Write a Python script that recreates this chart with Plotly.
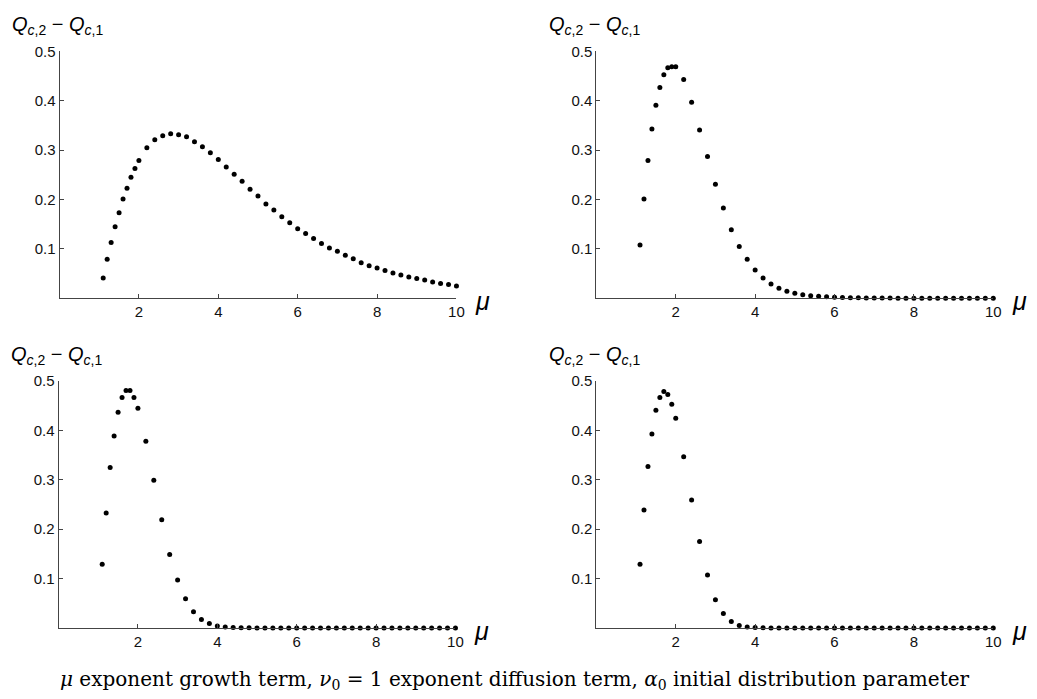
import plotly.graph_objects as go

W, H = 1037, 699

mu = [1.1, 1.2, 1.3, 1.4, 1.5, 1.6, 1.7, 1.8, 1.9, 2.0,
      2.2, 2.4, 2.6, 2.8, 3.0, 3.2, 3.4, 3.6, 3.8, 4.0,
      4.2, 4.4, 4.6, 4.8, 5.0, 5.2, 5.4, 5.6, 5.8, 6.0,
      6.2, 6.4, 6.6, 6.8, 7.0, 7.2, 7.4, 7.6, 7.8, 8.0,
      8.2, 8.4, 8.6, 8.8, 9.0, 9.2, 9.4, 9.6, 9.8, 10.0]

q_top_left = [0.041, 0.079, 0.113, 0.145, 0.173, 0.201, 0.223, 0.245, 0.263, 0.279,
              0.305, 0.321, 0.329, 0.333, 0.331, 0.327, 0.317, 0.307, 0.295, 0.281,
              0.266, 0.251, 0.237, 0.221, 0.207, 0.191, 0.179, 0.165, 0.153, 0.141,
              0.131, 0.121, 0.111, 0.102, 0.095, 0.087, 0.080, 0.072, 0.066, 0.061,
              0.056, 0.051, 0.047, 0.043, 0.040, 0.037, 0.033, 0.030, 0.028, 0.025]

q_top_right = [0.108, 0.201, 0.279, 0.343, 0.391, 0.427, 0.453, 0.467, 0.469, 0.469,
               0.443, 0.397, 0.341, 0.287, 0.231, 0.183, 0.139, 0.105, 0.079, 0.057,
               0.041, 0.029, 0.020, 0.014, 0.010, 0.007, 0.005, 0.004, 0.003, 0.002,
               0.0015, 0.001, 0.001, 0.0007, 0.0005, 0.0004, 0.0003, 0.0002, 0.0002, 0.0001,
               0.0001, 0.0001, 0.0001, 0.0001, 0.0001, 0.0, 0.0, 0.0, 0.0, 0.0]

q_bottom_left = [0.129, 0.233, 0.325, 0.389, 0.437, 0.467, 0.481, 0.481, 0.467, 0.445,
                 0.378, 0.299, 0.219, 0.149, 0.097, 0.059, 0.033, 0.017, 0.009, 0.004,
                 0.002, 0.001, 0.0005, 0.0003, 0.0001, 0.0, 0.0, 0.0, 0.0, 0.0,
                 0.0, 0.0, 0.0, 0.0, 0.0, 0.0, 0.0, 0.0, 0.0, 0.0,
                 0.0, 0.0, 0.0, 0.0, 0.0, 0.0, 0.0, 0.0, 0.0, 0.0]

q_bottom_right = [0.129, 0.239, 0.327, 0.393, 0.441, 0.467, 0.479, 0.473, 0.453, 0.425,
                  0.347, 0.259, 0.175, 0.107, 0.057, 0.029, 0.013, 0.005, 0.002, 0.001,
                  0.0004, 0.0001, 0.0, 0.0, 0.0, 0.0, 0.0, 0.0, 0.0, 0.0,
                  0.0, 0.0, 0.0, 0.0, 0.0, 0.0, 0.0, 0.0, 0.0, 0.0,
                  0.0, 0.0, 0.0, 0.0, 0.0, 0.0, 0.0, 0.0, 0.0, 0.0]

x_ticks = [2, 4, 6, 8, 10]
x_tick_text = ["2", "4", "6", "8", "10"]
y_ticks = [0.1, 0.2, 0.3, 0.4, 0.5]
y_tick_text = ["0.1", "0.2", "0.3", "0.4", "0.5"]

y_label = "<i>Q</i><sub><i>c</i>,2</sub> − <i>Q</i><sub><i>c</i>,1</sub>"
caption = ("<i>μ</i> exponent growth term, <i>ν</i><sub>0</sub> = 1 exponent diffusion term, "
           "<i>α</i><sub>0</sub> initial distribution parameter")

# panel pixel boxes: (left, right, top, bottom)
panels = [
    (60, 460, 43, 293, q_top_left),
    (601, 1001, 43, 293, q_top_right),
    (59, 459, 377, 627, q_bottom_left),
    (601, 1001, 377, 627, q_bottom_right),
]

def px(x):
    return x / W

def py(y):
    return 1 - y / H

fig = go.Figure()
sans = "Liberation Sans, Arial, sans-serif"
axis_color = "#444444"
annotations = []

for i, (l, r, t, b, vals) in enumerate(panels, start=1):
    xa = "x" if i == 1 else f"x{i}"
    ya = "y" if i == 1 else f"y{i}"
    fig.add_trace(go.Scatter(
        x=mu, y=vals, mode="markers", xaxis=xa, yaxis=ya,
        marker=dict(color="black", size=5), cliponaxis=False, showlegend=False,
    ))
    xkey = "xaxis" if i == 1 else f"xaxis{i}"
    ykey = "yaxis" if i == 1 else f"yaxis{i}"
    fig.update_layout(**{
        xkey: dict(domain=[px(l), px(r)], range=[0, 10], anchor=ya,
                   showline=True, linecolor=axis_color, linewidth=1,
                   showgrid=False, zeroline=False,
                   tickmode="array", tickvals=x_ticks, ticktext=x_tick_text,
                   ticks="inside", ticklen=4, tickcolor=axis_color,
                   tickfont=dict(family=sans, size=15, color="#111")),
        ykey: dict(domain=[py(b), py(t)], range=[0, 0.5], anchor=xa,
                   showline=True, linecolor=axis_color, linewidth=1,
                   showgrid=False, zeroline=False,
                   tickmode="array", tickvals=y_ticks, ticktext=y_tick_text,
                   ticks="inside", ticklen=4, tickcolor=axis_color,
                   tickfont=dict(family=sans, size=15, color="#111")),
    })
    # y label above axis
    annotations.append(dict(
        text=y_label, xref="paper", yref="paper",
        x=px(l - 50), y=py(t - 26), xanchor="left", yanchor="middle",
        showarrow=False, font=dict(family=sans, size=20, color="black"),
    ))
    # mu label at right end of x axis
    annotations.append(dict(
        text="<i>μ</i>", xref="paper", yref="paper",
        x=px(r + 17), y=py(b + 3), xanchor="left", yanchor="middle",
        showarrow=False, font=dict(family=sans, size=25, color="black"),
    ))

annotations.append(dict(
    text=caption, xref="paper", yref="paper",
    x=px(519), y=py(680), xanchor="center", yanchor="middle",
    showarrow=False, font=dict(family="DejaVu Serif, serif", size=20, color="black"),
))

fig.update_layout(
    width=W, height=H, margin=dict(l=0, r=0, t=0, b=0),
    paper_bgcolor="white", plot_bgcolor="white",
    annotations=annotations,
)

fig.write_html("out.html")
